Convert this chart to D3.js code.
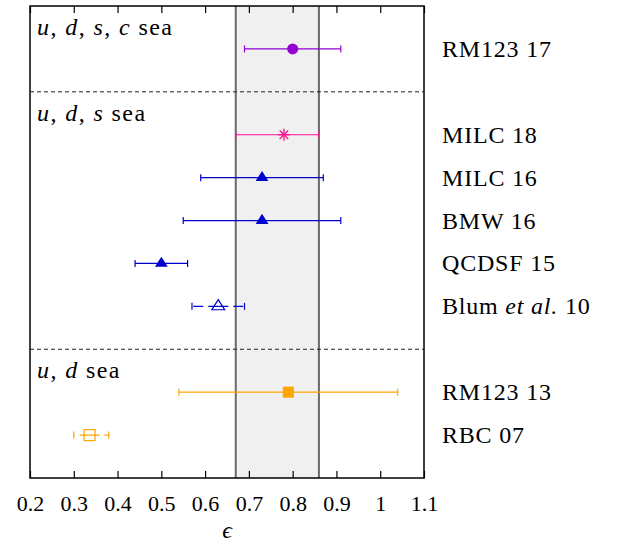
<!DOCTYPE html>
<html>
<head>
<meta charset="utf-8">
<script src="https://cdn.jsdelivr.net/npm/d3@7"></script>
<style>
  html, body { margin: 0; padding: 0; background: #fff; }
  svg { display: block; }
</style>
</head>
<body>
<svg id="chart" width="620" height="544"></svg>
<script>
// ---- data ----
const labels = ["RM123 17", "MILC 18", "MILC 16", "BMW 16", "QCDSF 15", "Blum et al. 10", "RM123 13", "RBC 07"];
const values = [0.80, 0.78, 0.73, 0.73, 0.50, 0.63, 0.79, 0.336];
const errLow = [0.69, 0.67, 0.59, 0.55, 0.44, 0.57, 0.54, 0.30];
const errHigh = [0.91, 0.86, 0.87, 0.91, 0.56, 0.69, 1.04, 0.38];
const groupOf = [0, 1, 1, 1, 1, 1, 2, 2];
const groupLabels = ["u, d, s, c sea", "u, d, s sea", "u, d sea"];
const markers = ["circle", "asterisk", "triangle", "triangle", "triangle", "triangleOpen", "square", "squareOpen"];
const colors = ["#9400d3", "#ff1493", "#0000cd", "#0000cd", "#0000cd", "#0000cd", "#ffa500", "#ffa500"];
const dashedBars = [false, false, false, false, false, true, false, true];
const band = [0.67, 0.86];
const xTicks = [0.2, 0.3, 0.4, 0.5, 0.6, 0.7, 0.8, 0.9, 1.0, 1.1];
const xLabel = "\u03F5";

const FONT = "'Liberation Serif', 'DejaVu Serif', 'Times New Roman', Times, serif";

// ---- layout ----
const svg = d3.select("#chart");
const L = 30, R = 424, T = 6, B = 478;

const rowPos = [];
const sepPos = [];
let slot = 1;
labels.forEach((d, i) => {
  if (i > 0 && groupOf[i] !== groupOf[i - 1]) { sepPos.push(slot); slot++; }
  rowPos.push(slot); slot++;
});
const nSlots = slot;

const x = d3.scaleLinear().domain([0.2, 1.1]).range([L, R]);
const y = d3.scaleLinear().domain([0, nSlots]).range([T, B]);

// band
svg.append("rect")
  .attr("x", x(band[0])).attr("y", T)
  .attr("width", x(band[1]) - x(band[0])).attr("height", B - T)
  .attr("fill", "#f0f0f0");
band.forEach(b => {
  svg.append("line")
    .attr("x1", x(b)).attr("x2", x(b)).attr("y1", T).attr("y2", B)
    .attr("stroke", "#6a6a6a").attr("stroke-width", 2);
});

// separators
sepPos.forEach(s => {
  svg.append("line")
    .attr("x1", L).attr("x2", R).attr("y1", y(s)).attr("y2", y(s))
    .attr("stroke", "#222").attr("stroke-width", 1).attr("stroke-dasharray", "4,3");
});

// axes
const axB = svg.append("g").attr("transform", `translate(0,${B})`)
  .call(d3.axisBottom(x).tickValues(xTicks).tickSize(-7).tickSizeOuter(0)
    .tickFormat(d => String(+d.toFixed(1))));
axB.attr("font-family", null).attr("font-size", null);
axB.select(".domain").remove();
axB.selectAll(".tick line").attr("stroke", "#000").attr("stroke-width", 1.2);
axB.selectAll(".tick text").attr("y", 33).attr("dy", 0).attr("fill", "#000")
  .style("font-size", "22px").style("font-family", FONT);

const axT = svg.append("g").attr("transform", `translate(0,${T})`)
  .call(d3.axisTop(x).tickValues(xTicks).tickSize(-7).tickSizeOuter(0).tickFormat(""));
axT.select(".domain").remove();
axT.selectAll(".tick line").attr("stroke", "#000").attr("stroke-width", 1.2);

// axis label
svg.append("text").attr("x", (L + R) / 2).attr("y", 538)
  .attr("text-anchor", "middle").style("font-family", FONT)
  .style("font-size", "24px").style("font-style", "italic")
  .text(xLabel);

// error bars + markers
const cap = 3.5;
labels.forEach((lab, i) => {
  const cy = y(rowPos[i]);
  const c = colors[i];
  const g = svg.append("g");
  const cx = x(values[i]);
  if (dashedBars[i]) {
    [errLow[i], errHigh[i]].forEach(e => {
      g.append("line").attr("x1", cx).attr("x2", x(e)).attr("y1", cy).attr("y2", cy)
        .attr("stroke", c).attr("stroke-width", 1.2).attr("stroke-dasharray", "10,5");
    });
  } else {
    g.append("line").attr("x1", x(errLow[i])).attr("x2", x(errHigh[i])).attr("y1", cy).attr("y2", cy)
      .attr("stroke", c).attr("stroke-width", 1.2);
  }
  [errLow[i], errHigh[i]].forEach(e => {
    g.append("line").attr("x1", x(e)).attr("x2", x(e)).attr("y1", cy - cap).attr("y2", cy + cap)
      .attr("stroke", c).attr("stroke-width", 1.2);
  });
  const m = markers[i];
  if (m === "circle") {
    g.append("circle").attr("cx", cx).attr("cy", cy).attr("r", 5.5).attr("fill", c);
  } else if (m === "asterisk") {
    const r = 6;
    [0, 45, 90, 135].forEach(a => {
      const dx = r * Math.cos(a * Math.PI / 180), dy = r * Math.sin(a * Math.PI / 180);
      g.append("line").attr("x1", cx - dx).attr("x2", cx + dx).attr("y1", cy - dy).attr("y2", cy + dy)
        .attr("stroke", c).attr("stroke-width", 1.4);
    });
  } else if (m === "triangle" || m === "triangleOpen") {
    const p = `M${cx},${cy - 6.7}L${cx + 6.4},${cy + 3.4}L${cx - 6.4},${cy + 3.4}Z`;
    if (m === "triangle") g.append("path").attr("d", p).attr("fill", c);
    else g.append("path").attr("d", p).attr("fill", "none").attr("stroke", c).attr("stroke-width", 1.2);
  } else if (m === "square" || m === "squareOpen") {
    const s = 11;
    const rr = g.append("rect").attr("x", cx - s / 2).attr("y", cy - s / 2).attr("width", s).attr("height", s);
    if (m === "square") rr.attr("fill", c);
    else rr.attr("fill", "none").attr("stroke", c).attr("stroke-width", 1.2);
  }

  // right label
  const t = svg.append("text").attr("x", 442).attr("y", cy + 8)
    .style("font-family", FONT).style("font-size", "24px").style("letter-spacing", "0.8px");
  const mm = lab.match(/^(.*?)(et al\.)(.*)$/);
  if (mm) {
    t.append("tspan").text(mm[1]);
    t.append("tspan").style("font-style", "italic").text(mm[2]);
    t.append("tspan").text(mm[3]);
  } else {
    t.text(lab);
  }
});

// group labels
groupLabels.forEach((gl, gi) => {
  const first = groupOf.indexOf(gi);
  const by = y(rowPos[first]) - 14;
  const t = svg.append("text").attr("x", 37).attr("y", by)
    .style("font-family", FONT).style("font-size", "24px").style("letter-spacing", "1.4px");
  const parts = gl.replace(" sea", "").split(", ");
  parts.forEach((p, k) => {
    t.append("tspan").style("font-style", "italic").text(p);
    if (k < parts.length - 1) t.append("tspan").text(", ");
  });
  t.append("tspan").text(" sea");
});

// frame
svg.append("rect").attr("x", L).attr("y", T).attr("width", R - L).attr("height", B - T)
  .attr("fill", "none").attr("stroke", "#000").attr("stroke-width", 1.5);
</script>
</body>
</html>
